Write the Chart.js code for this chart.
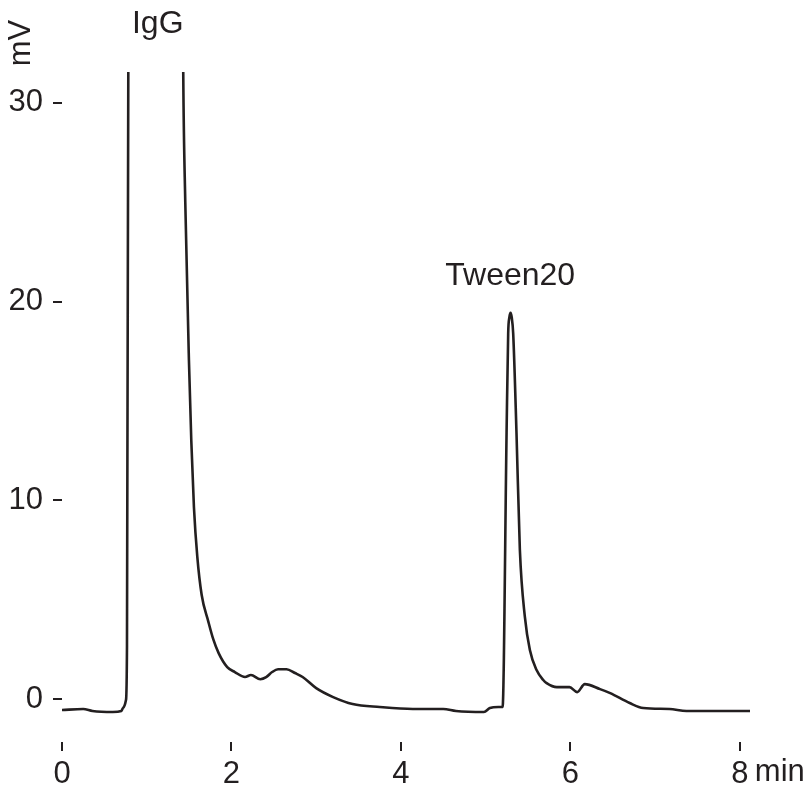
<!DOCTYPE html>
<html><head><meta charset="utf-8">
<script src="https://cdn.jsdelivr.net/npm/chart.js@4.4.0/dist/chart.umd.min.js"></script>
<style>html,body{margin:0;padding:0;background:#fff;}canvas{display:block;}</style>
</head><body>
<canvas id="c" width="805" height="791"></canvas>
<script>
// Retention time (min)
const timeMin = [
  0.00, 0.25, 0.36, 0.60, 0.70, 0.72, 0.755, 0.767, 0.79, 1.10,
  1.42, 1.431, 1.455, 1.498, 1.526, 1.557, 1.597, 1.648, 1.727, 1.786,
  1.85, 1.95, 2.04, 2.16, 2.23, 2.34, 2.41, 2.48, 2.55, 2.65,
  2.75, 2.84, 3.00, 3.20, 3.43, 3.75, 4.14, 4.50, 4.65, 4.98,
  5.05, 5.15, 5.200, 5.247, 5.266, 5.280, 5.294, 5.308, 5.325, 5.364, 5.404, 5.463,
  5.522, 5.601, 5.68, 5.72, 5.84, 5.99, 6.08, 6.17, 6.35, 6.47,
  6.70, 6.86, 7.17, 7.37, 7.76, 8.12
];
// Detector signal (mV)
const signalMV = [
  -0.55, -0.50, -0.60, -0.65, -0.60, -0.45, -0.05, 2.7, 45, 90,
  40, 31.5, 25.0, 17.06, 13.0, 9.66, 7.15, 5.25, 3.9, 3.0,
  2.3, 1.61, 1.36, 1.11, 1.21, 1.00, 1.10, 1.36, 1.50, 1.50,
  1.31, 1.11, 0.55, 0.10, -0.25, -0.40, -0.50, -0.50, -0.60, -0.65,
  -0.45, -0.40, -0.40, 13.4, 18.4, 19.2, 19.43, 19.2, 18.4, 13.4, 7.5, 4.13,
  2.47, 1.46, 0.96, 0.80, 0.60, 0.60, 0.35, 0.75, 0.50, 0.30,
  -0.20, -0.45, -0.50, -0.60, -0.60, -0.60
];
const xTicks = [0, 2, 4, 6, 8];
const yTicks = [0, 10, 20, 30];
const peakNames = ['IgG', 'Tween20'];

const INK = '#231f20';
const FONT = '"Liberation Sans", Arial, Helvetica, sans-serif';

const textPlugin = {
  id: 'texts',
  afterDraw(chart) {
    const ctx = chart.ctx;
    const xs = chart.scales.x, ys = chart.scales.y;
    ctx.save();
    ctx.fillStyle = INK;
    ctx.font = '32px ' + FONT;
    ctx.textAlign = 'center';
    ctx.textBaseline = 'middle';
    // peak names
    ctx.fillText(peakNames[0], xs.getPixelForValue(1.13), 24);
    ctx.fillText(peakNames[1], xs.getPixelForValue(5.29), ys.getPixelForValue(21.3));
    // units
    ctx.font = '31px ' + FONT;
    ctx.save();
    ctx.translate(21, 43);
    ctx.rotate(-Math.PI / 2);
    ctx.fillText('mV', 0, 0);
    ctx.restore();
    ctx.textAlign = 'left';
    ctx.fillText('min', xs.getPixelForValue(8) + 15, 772);
    ctx.restore();
  }
};

new Chart(document.getElementById('c'), {
  type: 'line',
  data: {
    datasets: [{
      data: timeMin.map((t, i) => ({ x: t, y: signalMV[i] })),
      borderColor: INK,
      borderWidth: 2.6,
      pointRadius: 0,
      cubicInterpolationMode: 'monotone',
      fill: false
    }]
  },
  options: {
    responsive: false,
    animation: false,
    devicePixelRatio: 1,
    layout: { padding: { top: 72, right: 55, left: 0, bottom: 0 } },
    plugins: { legend: { display: false }, tooltip: { enabled: false } },
    scales: {
      x: {
        type: 'linear',
        min: 0, max: 8.12,
        afterBuildTicks(s) { s.ticks = xTicks.map(v => ({ value: v })); },
        afterFit(s) { s.height = 49; },
        grid: { drawOnChartArea: false, drawTicks: true, tickLength: 9, color: INK, lineWidth: 2 },
        border: { display: false },
        ticks: { color: INK, font: { size: 31, family: FONT }, padding: 5, maxRotation: 0, autoSkip: false }
      },
      y: {
        type: 'linear',
        min: -2.16, max: 31.55,
        afterBuildTicks(s) { s.ticks = yTicks.map(v => ({ value: v })); },
        afterFit(s) { s.width = 62; },
        grid: { drawOnChartArea: false, drawTicks: true, tickLength: 9, color: INK, lineWidth: 2 },
        border: { display: false },
        ticks: { color: INK, font: { size: 31, family: FONT }, padding: 10, autoSkip: false }
      }
    }
  },
  plugins: [textPlugin]
});
</script>
</body></html>
